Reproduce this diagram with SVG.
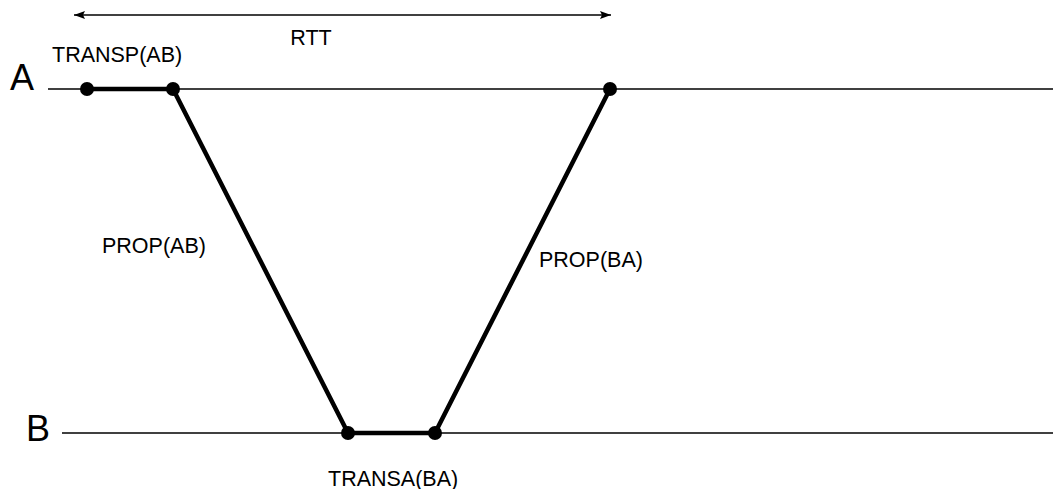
<svg xmlns="http://www.w3.org/2000/svg" width="1053" height="489" viewBox="0 0 1053 489">
<style>
.t{font-family:"Liberation Sans",Arial,sans-serif;fill:#000}
.lbl{font-size:21.5px}
.big{font-size:36px}
.thin{stroke:#000;stroke-width:1.5;fill:none}
.thick{stroke:#000;stroke-width:4.5;fill:none}
.dot{fill:#000}
</style>
<defs>
<marker id="ah" viewBox="0 0 11 8" refX="11" refY="4" markerWidth="11" markerHeight="8" markerUnits="userSpaceOnUse" orient="auto-start-reverse">
<path d="M0,0 L11,4 L0,8 L2,4 z" fill="#000"/>
</marker>
</defs>
<rect width="1053" height="489" fill="#fff"/>
<g id="timelines">
<line class="thin" x1="48" y1="89" x2="1053" y2="89"/>
<line class="thin" x1="62" y1="433" x2="1053" y2="433"/>
<text class="t big" x="10" y="90">A</text>
<text class="t big" x="26" y="441">B</text>
</g>
<g id="connectors">
<line class="thin" x1="74" y1="15" x2="611" y2="15" marker-start="url(#ah)" marker-end="url(#ah)"/>
<polyline class="thick" points="87,89 173,89 348,433 435,433 610,89"/>
</g>
<g id="points">
<circle class="dot" cx="87" cy="89" r="7"/>
<circle class="dot" cx="173" cy="89" r="7"/>
<circle class="dot" cx="610" cy="89" r="7"/>
<circle class="dot" cx="348" cy="433" r="7"/>
<circle class="dot" cx="435" cy="433" r="7"/>
</g>
<g id="labels">
<text class="t lbl" x="311" y="45" text-anchor="middle">RTT</text>
<text class="t lbl" x="52" y="62">TRANSP(AB)</text>
<text class="t lbl" x="102" y="253">PROP(AB)</text>
<text class="t lbl" x="539" y="267">PROP(BA)</text>
<text class="t lbl" x="328" y="486">TRANSA(BA)</text>
</g>
</svg>
